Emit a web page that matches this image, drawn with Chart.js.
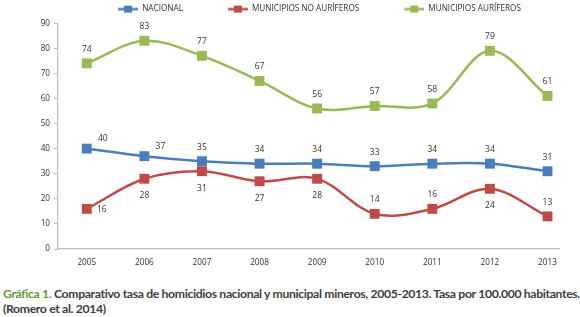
<!DOCTYPE html>
<html><head><meta charset="utf-8">
<script src="https://cdn.jsdelivr.net/npm/chart.js@4.4.0/dist/chart.umd.min.js"></script>
<style>
html,body{margin:0;padding:0;background:#fff;width:580px;height:317px;overflow:hidden}
#wrap{position:absolute;left:0;top:0;width:580px;height:275px}
#cap{position:absolute;left:3px;top:286px;font-family:Lato,'Open Sans',sans-serif;font-weight:bold;font-size:11.5px;letter-spacing:-0.35px;color:#3d3d3d;line-height:15px;white-space:nowrap}
#cap .g{color:#5f9b34}
</style></head><body>
<div id="wrap"><canvas id="c" width="580" height="275"></canvas></div>
<div id="cap"><span id="l1"><span class="g">Gráfica 1.</span> Comparativo tasa de homicidios nacional y municipal mineros, 2005-2013. Tasa por 100.000 habitantes.</span><br>(Romero et al. 2014)</div>
<script>
const years = ['2005','2006','2007','2008','2009','2010','2011','2012','2013'];
const seriesNames = ['NACIONAL','MUNICIPIOS NO AURÍFEROS','MUNICIPIOS AURÍFEROS'];
const nacional    = [40,37,35,34,34,33,34,34,31];
const noAuriferos = [16,28,31,27,28,14,16,24,13];
const auriferos   = [74,83,77,67,56,57,58,79,61];
const yTicks = [0,10,20,30,40,50,60,70,80,90];

// label placement (a = above, b = below, r = right, ar = above-right)
const nacionalPos    = ['ar','ar','a','a','a','a','a','a','a'];
const noAuriferosPos = ['r','b','b','b','b','a','a','b','a'];
const auriferosPos   = ['a','a','a','a','a','a','a','a','a'];

const COLORS = ['#4a7ebb','#be4b48','#98b954'];
const FONT = "'Open Sans',sans-serif";
const OFF = {a:[0,-14], b:[0,17], r:[15,1], ar:[16,-10]};

// fit caption line to reference width
(function(){
  const cap = document.getElementById('cap');
  const w = document.getElementById('l1').getBoundingClientRect().width;
  cap.style.fontSize = (11.5 * 575 / w).toFixed(2) + 'px';
})();

const ICON_W = 60, LINE_W = 20;
function legendIcon(color){
  const c = document.createElement('canvas');
  c.width = ICON_W; c.height = 9;
  const g = c.getContext('2d');
  g.strokeStyle = color; g.lineWidth = 2.5;
  g.beginPath(); g.moveTo(ICON_W-LINE_W,4.5); g.lineTo(ICON_W,4.5); g.stroke();
  g.fillStyle = color; g.fillRect(ICON_W-LINE_W/2-4,1,8,7);
  return c;
}
const icons = COLORS.map(legendIcon);

const toPts = arr => arr.map((v,i)=>({x:i,y:v}));
const posSets = [nacionalPos, noAuriferosPos, auriferosPos];
const dataSets = [nacional, noAuriferos, auriferos];

const valueLabels = {
  id:'valueLabels',
  afterDatasetsDraw(chart){
    const ctx = chart.ctx;
    ctx.save();
    ctx.font = '8.5px ' + FONT;
    ctx.fillStyle = '#333';
    ctx.textAlign = 'center';
    ctx.textBaseline = 'middle';
    chart.data.datasets.forEach((ds,di)=>{
      const meta = chart.getDatasetMeta(di);
      meta.data.forEach((pt,i)=>{
        const o = OFF[posSets[di][i]];
        ctx.fillText(String(dataSets[di][i]), pt.x+o[0], pt.y+o[1]);
      });
    });
    ctx.restore();
  }
};

const PAD_L = 40;
new Chart(document.getElementById('c'), {
  type:'line',
  data:{
    datasets: dataSets.map((d,i)=>({
      label: seriesNames[i],
      data: toPts(d),
      borderColor: COLORS[i],
      backgroundColor: COLORS[i],
      borderWidth: 2.5,
      pointStyle: 'rect',
      pointRadius: 7,
      pointHoverRadius: 7,
      pointBorderWidth: 0,
      tension: 0.35,
      clip: false
    }))
  },
  options:{
    responsive:false,
    devicePixelRatio:1,
    animation:false,
    events:[],
    layout:{padding:{left:PAD_L,right:21,top:0,bottom:0}},
    plugins:{
      tooltip:{enabled:false},
      legend:{
        display:true,
        position:'top',
        labels:{
          usePointStyle:true,
          pointStyleWidth:ICON_W,
          padding:5,
          color:'#333',
          font:{family:FONT,size:8.2},
          generateLabels(chart){
            const items = Chart.defaults.plugins.legend.labels.generateLabels(chart);
            items.forEach((it,i)=>{ it.pointStyle = icons[i]; });
            return items;
          }
        }
      }
    },
    scales:{
      x:{
        type:'linear',
        min:-0.5, max:8.2,
        afterBuildTicks(s){ s.ticks = years.map((_,i)=>({value:i})); },
        afterFit(s){ s.height = 26; },
        grid:{display:false, drawTicks:false},
        border:{color:'#bdbdbd', width:1.2},
        ticks:{padding:9, color:'#333', font:{family:FONT,size:8.2}, callback:v=>years[v] ?? ''}
      },
      y:{
        min:0, max:90,
        afterBuildTicks(s){ s.ticks = yTicks.map(v=>({value:v})); },
        afterFit(s){ s.width = 58 - PAD_L; },
        grid:{display:true, drawOnChartArea:false, drawTicks:true, tickLength:4, color:'#bdbdbd'},
        border:{color:'#bdbdbd', width:1.2},
        ticks:{padding:4, color:'#333', font:{family:FONT,size:8.2}}
      }
    }
  },
  plugins:[valueLabels]
});
</script>
</body></html>
